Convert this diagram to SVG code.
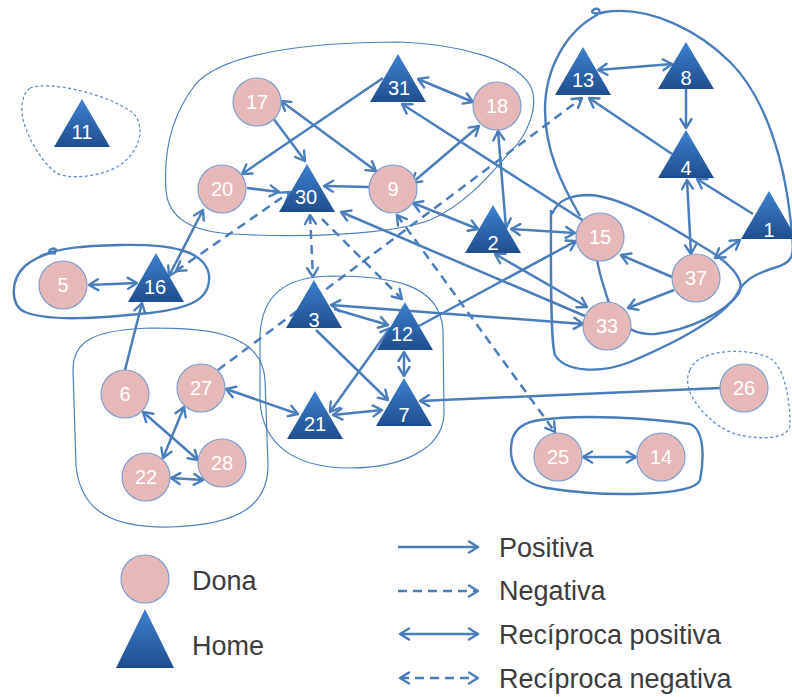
<svg xmlns="http://www.w3.org/2000/svg" width="792" height="697" viewBox="0 0 792 697">
<defs>
<style>
.hull{fill:none;stroke:#4f81bd;stroke-width:1.2}
.hullb{fill:none;stroke:#4a7ebb;stroke-width:2.4}
.hulld{fill:none;stroke:#5b8cc8;stroke-width:1.3;stroke-dasharray:3 2.5}
.e{stroke:#4a7ebb;stroke-width:2.5;fill:none}
.pos{marker-end:url(#ah)}
.neg{marker-end:url(#ah);stroke-dasharray:9 6}
.rpos{marker-end:url(#ah);marker-start:url(#ahs)}
.rneg{marker-end:url(#ah);marker-start:url(#ahs);stroke-dasharray:9 6}
.c{fill:#e6b9b8;stroke:#7f9fcf;stroke-width:1.2}
.t{fill:url(#tg)}
.lbl{font-family:"Liberation Sans",Arial,sans-serif;font-size:20px;fill:#ffffff;text-anchor:middle;dominant-baseline:central}
.leg{font-family:"Liberation Sans",Arial,sans-serif;font-size:27px;fill:#3c3c3c}
</style>
<linearGradient id="tg" x1="0" y1="0" x2="0" y2="1">
<stop offset="0" stop-color="#3d81d0"/>
<stop offset="1" stop-color="#1f4e8e"/>
</linearGradient>
<marker id="ah" viewBox="-11 -7 13 14" refX="0" refY="0" markerWidth="13" markerHeight="14" markerUnits="userSpaceOnUse" orient="auto">
<path d="M-9,-5.5 L0,0 L-9,5.5" fill="none" stroke="#4a7ebb" stroke-width="2.4" stroke-linecap="round" stroke-linejoin="round" stroke-dasharray="none"/>
</marker>
<marker id="ahs" viewBox="-11 -7 13 14" refX="0" refY="0" markerWidth="13" markerHeight="14" markerUnits="userSpaceOnUse" orient="auto-start-reverse">
<path d="M-9,-5.5 L0,0 L-9,5.5" fill="none" stroke="#4a7ebb" stroke-width="2.4" stroke-linecap="round" stroke-linejoin="round" stroke-dasharray="none"/>
</marker>
</defs>
<rect width="792" height="697" fill="#ffffff"/>

<g id="groups">
<path class="hull" d="M400,42 C460,44 515,60 530,85 C540,105 528,135 510,152 C490,175 465,205 430,220 C390,235 300,238 233,234 C195,232 168,220 166,190 C164,160 168,120 195,85 C220,55 300,42 400,42 Z"/>
<path class="hull" d="M330,276 C390,276 440,283 443,330 L444,415 C442,450 400,468 350,468 C295,468 262,445 260,400 L260,335 C262,295 285,277 330,276 Z"/>
<path class="hull" d="M150,328 C200,328 262,330 265,380 L268,465 C268,505 240,525 170,527 C110,528 80,510 76,465 L73,370 C73,340 95,330 150,328 Z"/>
<path class="hullb" d="M40,256 C60,248 80,246 120,245 C170,244 205,250 209,275 C211,300 190,308 150,313 C100,318 50,322 25,312 C10,305 10,280 25,266 C35,258 45,254 55,252 C58,249 54,247 50,250 C48,252 50,254 56,253"/>
<path class="hullb" d="M540,420 C580,414 650,418 690,424 C705,430 704,460 700,480 C695,497 600,497 547,488 C515,482 508,460 512,440 C515,428 525,422 540,420 Z"/>
<path class="hullb" d="M580,216 C562,185 545,150 545,110 C545,70 565,32 597,15 C602,10 598,7 593,10 C590,13 596,15 605,12 C650,5 700,32 730,62 C765,97 786,160 792,235 C795,258 790,262 780,266 C760,272 745,278 738,292 C725,318 670,345 630,362 C600,374 565,372 555,355 C550,340 551,260 551,210"/>
<path class="hullb" d="M552,214 C558,200 570,195 590,195 C620,197 660,220 700,245 C730,262 746,280 739,293 C726,312 690,330 655,334 C630,336 615,320 608,300 C603,285 598,270 597,258"/>
<path class="hulld" d="M30,88 C50,80 110,95 133,113 C145,125 142,150 120,165 C100,178 65,180 55,172 C40,160 22,130 22,110 C22,98 25,92 30,88 Z"/>
<path class="hulld" d="M690,370 C695,352 740,345 770,358 C785,368 790,400 790,425 C788,440 760,440 735,434 C710,425 690,400 688,385 C687,378 688,374 690,370 Z"/>
</g>

<g id="connectors">
<line class="e pos" x1="383" y1="78" x2="242" y2="174"/>
<line class="e pos" x1="273" y1="118" x2="305" y2="161"/>
<line class="e pos" x1="247" y1="188" x2="279" y2="192"/>
<line class="e pos" x1="369" y1="187" x2="324" y2="186"/>
<line class="e pos" x1="584" y1="221" x2="402" y2="104"/>
<line class="e pos" x1="585" y1="316" x2="341" y2="212"/>
<line class="e pos" x1="125" y1="370" x2="142" y2="303"/>
<line class="e pos" x1="334" y1="309" x2="388" y2="325"/>
<line class="e pos" x1="316" y1="330" x2="388" y2="400"/>
<line class="e pos" x1="417" y1="327" x2="576" y2="241"/>
<line class="e pos" x1="720" y1="388" x2="420" y2="401"/>
<line class="e pos" x1="672" y1="277" x2="621" y2="255"/>
<line class="e pos" x1="674" y1="290" x2="628" y2="308"/>
<line class="e pos" x1="753" y1="214" x2="697" y2="179"/>
<line class="e pos" x1="686" y1="89" x2="686" y2="128"/>
<line class="e pos" x1="672" y1="154" x2="589" y2="98"/>
<line class="e neg" x1="322" y1="219" x2="402" y2="299"/>
<line class="e neg" x1="218" y1="370" x2="582" y2="98"/>
<line class="e rpos" x1="418" y1="79" x2="473" y2="102"/>
<line class="e rpos" x1="281" y1="101" x2="376" y2="171"/>
<line class="e rpos" x1="479" y1="126" x2="412" y2="183"/>
<line class="e rpos" x1="498" y1="131" x2="506" y2="228"/>
<line class="e rpos" x1="413" y1="203" x2="478" y2="229"/>
<line class="e rpos" x1="511" y1="229" x2="575" y2="233"/>
<line class="e rpos" x1="495" y1="254" x2="587" y2="307"/>
<line class="e rpos" x1="331" y1="305" x2="583" y2="324"/>
<line class="e rpos" x1="169" y1="276" x2="203" y2="210"/>
<line class="e rpos" x1="89" y1="285" x2="137" y2="283"/>
<line class="e rpos" x1="226" y1="389" x2="298" y2="414"/>
<line class="e rpos" x1="143" y1="412" x2="198" y2="460"/>
<line class="e rpos" x1="184" y1="407" x2="163" y2="458"/>
<line class="e rpos" x1="171" y1="478" x2="203" y2="480"/>
<line class="e rpos" x1="404" y1="352" x2="404" y2="376"/>
<line class="e rpos" x1="333" y1="415" x2="382" y2="410"/>
<line class="e rpos" x1="330" y1="412" x2="390" y2="328"/>
<line class="e rpos" x1="691" y1="254" x2="687" y2="180"/>
<line class="e rpos" x1="715" y1="258" x2="740" y2="240"/>
<line class="e rpos" x1="598" y1="70" x2="672" y2="64"/>
<line class="e rpos" x1="583" y1="457" x2="636" y2="457"/>
<line class="e rneg" x1="310" y1="215" x2="313" y2="277"/>
<line class="e rneg" x1="397" y1="215" x2="555" y2="432"/>
<line class="e rneg" x1="176" y1="271" x2="290" y2="192"/>
</g>

<g id="n17"><circle class="c" cx="257" cy="102" r="24"/><text class="lbl" x="257" y="102">17</text></g>
<g id="n18"><circle class="c" cx="497" cy="106" r="24"/><text class="lbl" x="497" y="106">18</text></g>
<g id="n20"><circle class="c" cx="222" cy="189" r="24"/><text class="lbl" x="222" y="189">20</text></g>
<g id="n9"><circle class="c" cx="393" cy="189" r="24"/><text class="lbl" x="393" y="189">9</text></g>
<g id="n15"><circle class="c" cx="600" cy="237" r="24"/><text class="lbl" x="600" y="237">15</text></g>
<g id="n37"><circle class="c" cx="696" cy="278" r="24"/><text class="lbl" x="696" y="278">37</text></g>
<g id="n33"><circle class="c" cx="607" cy="326" r="24"/><text class="lbl" x="607" y="326">33</text></g>
<g id="n5"><circle class="c" cx="63" cy="285" r="24"/><text class="lbl" x="63" y="285">5</text></g>
<g id="n6"><circle class="c" cx="125" cy="394" r="24"/><text class="lbl" x="125" y="394">6</text></g>
<g id="n27"><circle class="c" cx="201" cy="388" r="24"/><text class="lbl" x="201" y="388">27</text></g>
<g id="n22"><circle class="c" cx="146" cy="477" r="24"/><text class="lbl" x="146" y="477">22</text></g>
<g id="n28"><circle class="c" cx="222" cy="463" r="24"/><text class="lbl" x="222" y="463">28</text></g>
<g id="n26"><circle class="c" cx="744" cy="388" r="24"/><text class="lbl" x="744" y="388">26</text></g>
<g id="n25"><circle class="c" cx="558" cy="457" r="24"/><text class="lbl" x="558" y="457">25</text></g>
<g id="n14"><circle class="c" cx="661" cy="457" r="24"/><text class="lbl" x="661" y="457">14</text></g>

<g id="n31"><polygon class="t" points="398,54 426,102 370,102"/><text class="lbl" x="399" y="88">31</text></g>
<g id="n30"><polygon class="t" points="307,164 335,212 279,212"/><text class="lbl" x="306" y="197">30</text></g>
<g id="n13"><polygon class="t" points="583,47 611,95 555,95"/><text class="lbl" x="583" y="80">13</text></g>
<g id="n8"><polygon class="t" points="686,42 714,89 658,89"/><text class="lbl" x="686" y="78">8</text></g>
<g id="n4"><polygon class="t" points="686,130 714,178 658,178"/><text class="lbl" x="686" y="168">4</text></g>
<g id="n1"><polygon class="t" points="769,191 797,239 741,239"/><text class="lbl" x="769" y="230">1</text></g>
<g id="n2"><polygon class="t" points="493,205 521,253 465,253"/><text class="lbl" x="493" y="243">2</text></g>
<g id="n11"><polygon class="t" points="82,99 110,147 54,147"/><text class="lbl" x="82" y="132">11</text></g>
<g id="n16"><polygon class="t" points="156,253 184,302 128,302"/><text class="lbl" x="155" y="287">16</text></g>
<g id="n3"><polygon class="t" points="314,280 342,328 286,328"/><text class="lbl" x="314" y="320">3</text></g>
<g id="n12"><polygon class="t" points="405,302 433,350 377,350"/><text class="lbl" x="402" y="334">12</text></g>
<g id="n21"><polygon class="t" points="315,391 343,439 287,439"/><text class="lbl" x="315" y="424">21</text></g>
<g id="n7"><polygon class="t" points="404,378 432,426 376,426"/><text class="lbl" x="404" y="415">7</text></g>

<g id="legend">
<circle class="c" cx="145" cy="579" r="24"/>
<polygon class="t" points="145,609 174,668 116,668"/>
<text class="leg" x="192" y="590">Dona</text>
<text class="leg" x="192" y="655">Home</text>
<line class="e pos" x1="398" y1="547" x2="478" y2="547"/>
<line class="e neg" x1="398" y1="591" x2="478" y2="591"/>
<line class="e rpos" x1="400" y1="634" x2="478" y2="634"/>
<line class="e rneg" x1="400" y1="678" x2="478" y2="678"/>
<text class="leg" x="499" y="557">Positiva</text>
<text class="leg" x="499" y="600">Negativa</text>
<text class="leg" x="499" y="644">Recíproca positiva</text>
<text class="leg" x="499" y="688">Recíproca negativa</text>
</g>
</svg>
